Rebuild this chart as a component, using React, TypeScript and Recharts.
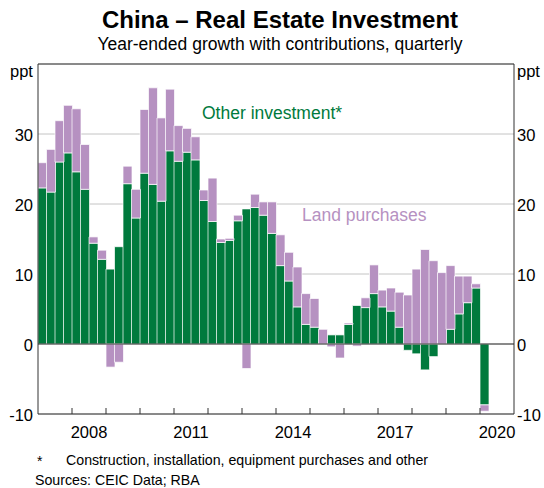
import React from 'react';
import {
  BarChart,
  Bar,
  XAxis,
  YAxis,
  CartesianGrid,
  ReferenceLine
} from 'recharts';

// quarterly slots, 2007 Q1 to 2020 Q4 (data ends 2020 Q1)
const quarters: string[] = [];
for (let y = 2007; y <= 2020; y++) {
  for (let q = 1; q <= 4; q++) quarters.push(`${y}Q${q}`);
}

const otherInvestment: number[] = [
  22.3, 21.7, 26.0, 27.3, 24.6, 22.1, 14.4, 12.1,
  10.7, 13.9, 22.9, 18.0, 24.4, 22.8, 20.4, 27.6,
  26.1, 27.4, 26.3, 20.5, 17.5, 14.5, 14.8, 17.6,
  19.3, 19.5, 18.4, 15.8, 11.2, 9.0, 5.3, 2.8,
  2.4, 0.0, 1.3, 1.3, 2.8, 5.5, 5.2, 7.2,
  5.3, 4.7, 2.4, -0.9, -1.4, -3.7, -1.8, 0.0,
  2.1, 4.3, 5.9, 8.0, -8.7
];

const landPurchases: number[] = [
  3.6, 6.1, 5.9, 6.8, 9.0, 6.4, 0.9, 1.3,
  -3.3, -2.6, 2.5, 4.1, 9.1, 13.8, 11.9, 8.8,
  5.1, 3.4, 3.3, 1.5, 6.2, 0.5, 0.3, 0.8,
  -3.5, 1.9, 1.9, 4.5, 4.4, 4.1, 5.7, 4.4,
  4.1, 2.1, -0.4, -2.0, 0.2, -0.3, 1.4, 4.1,
  2.4, 3.3, 5.0, 7.0, 10.7, 13.5, 11.9, 10.2,
  9.1, 5.4, 3.8, 0.6, -0.9
];

const yTicks = [-10, 0, 10, 20, 30];
const yearLabels = ['2008', '2011', '2014', '2017', '2020'];

const GREEN = '#007A3D';
const PURPLE = '#B691C1';
const FONT = '"Liberation Sans", Arial, Helvetica, sans-serif';

const CHART_W = 544;
const CHART_H = 488;
const LEFT_W = 38;
const RIGHT_W = 30;
const band = (CHART_W - LEFT_W - RIGHT_W) / quarters.length;

const data = quarters.map((q, i) => ({
  q,
  other: i < otherInvestment.length ? otherInvestment[i] : null,
  land: i < landPurchases.length ? landPurchases[i] : null
}));

const YearTick = (props: any) => {
  const { x, y, payload } = props;
  const value: string = payload.value;
  const year = value.slice(0, 4);
  const qtr = value.slice(5);
  const edge = x - band / 2;
  return (
    <g>
      {qtr === '1' && value !== quarters[0] && (
        <line x1={edge} x2={edge} y1={y} y2={y - 6} stroke="#333" strokeWidth={1} />
      )}
      {qtr === '3' && yearLabels.includes(year) && (
        <text x={edge} y={y + 23.5} textAnchor="middle" fontSize={16.5} fontFamily={FONT} fill="#000">
          {year}
        </text>
      )}
    </g>
  );
};

const LeftTick = (props: any) => {
  const { x, y, payload } = props;
  return (
    <text x={x - 5} y={y + 6.5} textAnchor="end" fontSize={16.5} fontFamily={FONT} fill="#000">
      {payload.value}
    </text>
  );
};

const RightTick = (props: any) => {
  const { x, y, payload } = props;
  return (
    <text x={x + 3} y={y + 6.5} textAnchor="start" fontSize={16.5} fontFamily={FONT} fill="#000">
      {payload.value}
    </text>
  );
};

const textStyle: React.CSSProperties = {
  position: 'absolute',
  fontFamily: FONT,
  whiteSpace: 'nowrap',
  lineHeight: 1
};

export default function App() {
  return (
    <div
      style={{
        position: 'absolute',
        left: 0,
        top: 0,
        width: CHART_W,
        height: CHART_H,
        background: '#fff'
      }}
    >
      <BarChart
        width={CHART_W}
        height={CHART_H}
        data={data}
        margin={{ top: 63, right: 0, left: 0, bottom: 44 }}
        stackOffset="sign"
        barCategoryGap={0}
      >
        <CartesianGrid vertical={false} stroke="#c4c4c4" yAxisId="left" />
        <XAxis
          dataKey="q"
          interval={0}
          height={30}
          tickSize={0}
          tickMargin={0}
          tickLine={false}
          axisLine={{ stroke: '#333' }}
          tick={<YearTick />}
        />
        <XAxis xAxisId="top" dataKey="q" orientation="top" height={1} tick={false} tickLine={false} axisLine={{ stroke: '#333' }} />
        <YAxis
          yAxisId="left"
          width={LEFT_W}
          domain={[-10, 40]}
          ticks={yTicks}
          tickSize={0}
          tickMargin={0}
          tickLine={false}
          axisLine={{ stroke: '#333' }}
          tick={<LeftTick />}
          allowDataOverflow
        />
        <YAxis
          yAxisId="right"
          orientation="right"
          width={RIGHT_W}
          domain={[-10, 40]}
          ticks={yTicks}
          tickSize={0}
          tickMargin={0}
          tickLine={false}
          axisLine={{ stroke: '#333' }}
          tick={<RightTick />}
          allowDataOverflow
        />
        <Bar
          dataKey="other"
          stackId="a"
          yAxisId="left"
          fill={GREEN}
          stroke="#ffffff"
          strokeOpacity={0.7}
          strokeWidth={1}
          isAnimationActive={false}
        />
        <Bar
          dataKey="land"
          stackId="a"
          yAxisId="left"
          fill={PURPLE}
          stroke="#ffffff"
          strokeOpacity={0.7}
          strokeWidth={1}
          isAnimationActive={false}
        />
        <ReferenceLine y={0} yAxisId="left" stroke="#333" strokeWidth={1} />
      </BarChart>

      <div style={{ ...textStyle, left: 0, width: CHART_W, top: 8, textAlign: 'center', fontSize: 24, fontWeight: 'bold', paddingLeft: 8 }}>
        China – Real Estate Investment
      </div>
      <div style={{ ...textStyle, left: 0, width: CHART_W, top: 36, textAlign: 'center', fontSize: 17.5, paddingLeft: 8 }}>
        Year-ended growth with contributions, quarterly
      </div>
      <div style={{ ...textStyle, left: 10, top: 63, fontSize: 16.5 }}>ppt</div>
      <div style={{ ...textStyle, left: 517, top: 63, fontSize: 16.5 }}>ppt</div>
      <div style={{ ...textStyle, left: 202, top: 105, fontSize: 17.5, color: GREEN }}>Other investment*</div>
      <div style={{ ...textStyle, left: 302, top: 207, fontSize: 17.5, color: PURPLE }}>Land purchases</div>
      <div style={{ ...textStyle, left: 37, top: 454, fontSize: 14 }}>*</div>
      <div style={{ ...textStyle, left: 66, top: 453, fontSize: 14.2 }}>
        Construction, installation, equipment purchases and other
      </div>
      <div style={{ ...textStyle, left: 35, top: 473, fontSize: 14.2 }}>Sources: CEIC Data; RBA</div>
    </div>
  );
}
